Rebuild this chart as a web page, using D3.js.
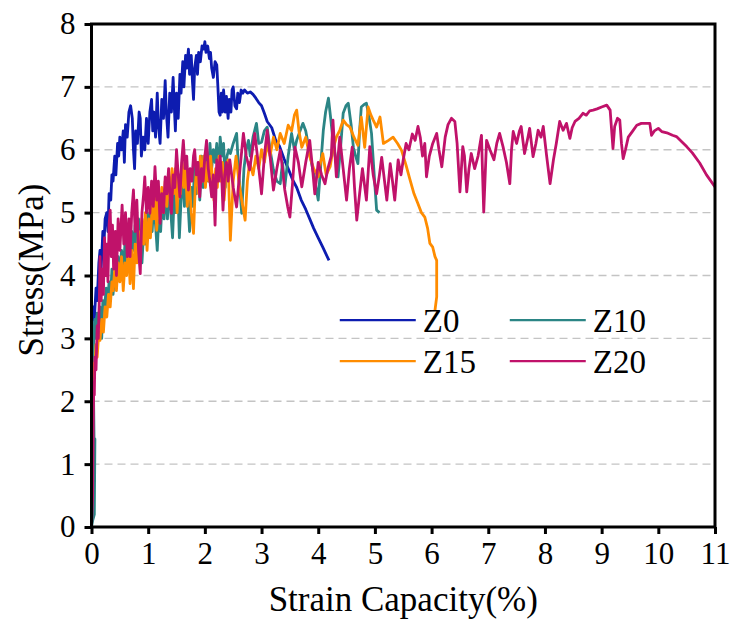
<!DOCTYPE html>
<html>
<head>
<meta charset="utf-8">
<script src="https://cdn.jsdelivr.net/npm/d3@7"></script>
<style>
  body { margin: 0; background: #fff; }
  svg text { font-family: "Liberation Serif", "Times New Roman", Times, "DejaVu Serif", serif; fill: #000; }
</style>
</head>
<body>
<div id="chart"></div>
<script>
// strain (%) / stress (MPa) pairs
const z0 = [[0,0],[0.01,3.2],[0.03,3.5],[0.05,3.3],[0.08,3.8],[0.1,3.6],[0.13,4.2],[0.15,4.4],[0.17,4.1],[0.2,4.7],[0.22,4.5],[0.24,4.9],[0.27,5.0],[0.29,4.7],[0.31,5.3],[0.34,5.2],[0.36,5.6],[0.38,5.5],[0.41,5.9],[0.43,5.6],[0.46,6.1],[0.48,5.9],[0.5,6.2],[0.53,6.0],[0.56,6.3],[0.58,5.8],[0.6,6.4],[0.63,6.2],[0.66,6.6],[0.69,6.7],[0.72,6.5],[0.74,6.0],[0.76,5.7],[0.78,6.3],[0.81,6.1],[0.84,6.6],[0.86,6.5],[0.88,5.9],[0.91,6.2],[0.94,6.0],[0.97,6.5],[1.0,6.1],[1.03,6.6],[1.06,6.8],[1.08,6.3],[1.1,6.6],[1.13,6.2],[1.16,6.9],[1.18,6.4],[1.21,6.1],[1.24,6.8],[1.27,6.5],[1.3,7.1],[1.32,6.6],[1.35,6.2],[1.38,6.9],[1.41,6.6],[1.44,7.15],[1.46,6.7],[1.48,6.3],[1.5,6.9],[1.53,6.5],[1.56,7.2],[1.58,6.9],[1.61,7.4],[1.63,7.0],[1.66,7.5],[1.68,7.3],[1.71,7.6],[1.73,7.2],[1.76,7.5],[1.78,7.1],[1.8,6.8],[1.82,7.3],[1.85,7.5],[1.87,7.2],[1.89,7.55],[1.92,7.4],[1.95,7.65],[1.98,7.6],[2.0,7.72],[2.02,7.55],[2.05,7.65],[2.08,7.45],[2.1,7.55],[2.12,7.3],[2.15,7.15],[2.18,7.4],[2.21,7.35],[2.23,7.0],[2.25,6.6],[2.27,6.55],[2.29,6.9],[2.31,6.6],[2.33,6.95],[2.36,6.6],[2.38,6.85],[2.41,6.5],[2.43,6.8],[2.46,6.6],[2.48,6.95],[2.5,7.0],[2.53,6.7],[2.56,6.65],[2.58,6.9],[2.61,6.75],[2.64,6.95],[2.67,6.9],[2.7,6.95],[2.75,6.9],[2.8,6.92],[2.85,6.88],[2.9,6.82],[2.95,6.75],[3.0,6.7],[3.05,6.58],[3.1,6.45],[3.18,6.35],[3.25,6.15],[3.32,6.05],[3.4,5.85],[3.47,5.7],[3.55,5.52],[3.62,5.4],[3.7,5.2],[3.78,5.05],[3.85,4.9],[3.92,4.75],[4.0,4.6],[4.08,4.45],[4.19,4.24]];

const z10 = [[0,0],[0.02,0.1],[0.05,0.2],[0.06,1.4],[0.05,1.0],[0.03,2.6],[0.04,3.1],[0.06,3.3],[0.08,3.0],[0.1,3.4],[0.12,3.2],[0.15,3.5],[0.18,3.0],[0.2,3.6],[0.23,3.5],[0.26,3.8],[0.28,3.5],[0.31,3.9],[0.34,3.7],[0.36,4.1],[0.38,3.7],[0.41,4.0],[0.44,3.9],[0.47,4.3],[0.5,4.0],[0.53,4.4],[0.56,4.1],[0.59,4.5],[0.62,4.2],[0.65,4.6],[0.68,4.3],[0.71,4.7],[0.74,4.4],[0.77,4.8],[0.8,4.4],[0.83,4.9],[0.86,4.6],[0.89,4.2],[0.92,4.7],[0.95,4.5],[0.98,5.0],[1.01,4.6],[1.04,5.1],[1.07,4.7],[1.1,5.2],[1.13,4.8],[1.16,4.4],[1.19,5.0],[1.22,4.7],[1.25,5.3],[1.28,4.9],[1.31,5.4],[1.34,4.9],[1.37,5.5],[1.4,5.0],[1.43,4.6],[1.46,5.3],[1.49,5.0],[1.52,5.5],[1.55,4.6],[1.58,5.2],[1.61,5.6],[1.64,5.1],[1.67,5.7],[1.7,5.2],[1.73,4.7],[1.76,5.4],[1.79,5.1],[1.82,5.8],[1.85,5.3],[1.88,5.8],[1.91,5.2],[1.94,5.9],[1.97,5.4],[2.0,5.6],[2.03,6.0],[2.06,5.5],[2.09,6.1],[2.12,5.7],[2.15,6.0],[2.18,5.8],[2.21,6.1],[2.24,5.5],[2.27,6.2],[2.3,5.9],[2.33,6.1],[2.36,5.4],[2.39,5.9],[2.42,6.0],[2.45,5.94],[2.5,6.1],[2.56,6.26],[2.6,5.6],[2.65,4.99],[2.69,5.7],[2.73,6.0],[2.77,6.15],[2.8,5.9],[2.85,6.2],[2.91,6.42],[2.95,6.1],[3.0,6.12],[3.05,6.3],[3.1,6.36],[3.15,6.0],[3.21,5.68],[3.27,5.5],[3.33,5.46],[3.37,5.8],[3.41,5.41],[3.47,5.9],[3.53,6.26],[3.58,6.0],[3.62,6.15],[3.68,6.3],[3.73,6.42],[3.78,6.3],[3.82,6.1],[3.88,5.8],[3.94,5.52],[4.0,5.2],[4.04,5.7],[4.09,6.31],[4.13,6.6],[4.18,6.82],[4.22,6.5],[4.26,6.15],[4.3,5.9],[4.35,5.57],[4.4,6.1],[4.44,6.58],[4.49,6.7],[4.53,6.74],[4.58,6.4],[4.62,6.04],[4.66,5.9],[4.7,5.78],[4.73,6.3],[4.76,6.68],[4.81,6.72],[4.85,6.74],[4.9,6.5],[4.94,6.26],[4.98,5.7],[5.03,5.04],[5.08,5.0]];

const z15 = [[0.01,2.3],[0.03,2.6],[0.05,2.4],[0.08,2.9],[0.1,2.7],[0.13,3.1],[0.15,2.97],[0.18,3.3],[0.21,3.1],[0.24,3.5],[0.27,3.34],[0.3,3.7],[0.33,3.5],[0.36,3.9],[0.38,3.76],[0.41,4.1],[0.44,3.76],[0.47,4.2],[0.5,3.9],[0.53,4.3],[0.56,3.76],[0.59,4.2],[0.62,4.0],[0.65,4.5],[0.68,3.87],[0.71,4.4],[0.74,3.79],[0.77,4.5],[0.8,4.2],[0.83,4.7],[0.86,4.3],[0.89,4.9],[0.92,4.5],[0.95,5.0],[0.98,4.4],[1.01,4.9],[1.04,4.6],[1.07,5.1],[1.1,4.9],[1.13,5.3],[1.15,4.72],[1.18,5.2],[1.21,4.9],[1.24,5.4],[1.27,5.0],[1.3,5.5],[1.33,5.1],[1.36,5.6],[1.39,5.2],[1.42,5.7],[1.45,5.3],[1.48,5.7],[1.51,5.0],[1.54,5.6],[1.57,5.3],[1.6,5.8],[1.63,5.4],[1.66,5.7],[1.69,5.1],[1.72,5.6],[1.76,5.0],[1.8,4.67],[1.83,5.4],[1.86,5.8],[1.89,5.3],[1.92,5.9],[1.95,5.5],[1.98,5.9],[2.01,5.4],[2.04,5.8],[2.07,5.5],[2.1,5.9],[2.13,5.6],[2.16,5.2],[2.19,5.7],[2.22,5.4],[2.25,5.9],[2.28,5.5],[2.31,5.8],[2.34,5.2],[2.37,5.6],[2.41,5.84],[2.45,4.56],[2.5,5.5],[2.55,5.9],[2.6,5.5],[2.65,5.2],[2.71,4.88],[2.75,5.5],[2.79,5.8],[2.85,5.6],[2.9,5.9],[2.95,5.7],[3.0,6.0],[3.05,5.8],[3.1,6.1],[3.15,5.9],[3.21,6.2],[3.27,6.0],[3.33,6.26],[3.4,6.1],[3.47,6.39],[3.53,6.3],[3.58,6.55],[3.62,6.63],[3.66,6.3],[3.71,6.04],[3.78,6.2],[3.85,5.89],[3.92,5.7],[4.0,5.57],[4.04,5.8],[4.08,5.94],[4.14,5.6],[4.21,5.73],[4.26,6.0],[4.32,6.2],[4.38,6.31],[4.44,6.47],[4.5,6.4],[4.56,6.36],[4.63,6.2],[4.7,6.07],[4.76,6.52],[4.82,6.04],[4.88,6.68],[4.93,6.55],[4.97,6.47],[5.03,6.36],[5.09,6.52],[5.15,6.1],[5.24,6.15],[5.32,6.2],[5.4,6.1],[5.47,5.99],[5.55,5.75],[5.62,5.52],[5.69,5.3],[5.76,5.14],[5.82,5.0],[5.88,4.93],[5.93,4.75],[5.97,4.51],[6.02,4.45],[6.06,4.3],[6.09,4.24],[6.09,3.66],[6.06,3.45]];

const z20 = [[0,0],[0.02,0.5],[0.03,1.54],[0.04,2.3],[0.05,2.1],[0.06,2.7],[0.08,2.5],[0.1,3.2],[0.12,3.0],[0.14,3.7],[0.15,4.3],[0.17,3.6],[0.19,4.1],[0.21,3.7],[0.23,4.6],[0.25,4.0],[0.27,4.5],[0.29,3.9],[0.31,4.8],[0.33,5.04],[0.35,4.3],[0.37,4.8],[0.39,4.1],[0.42,4.7],[0.44,4.0],[0.47,4.9],[0.5,4.4],[0.54,5.12],[0.57,4.5],[0.6,5.0],[0.63,4.3],[0.66,4.9],[0.68,4.3],[0.71,5.0],[0.74,5.36],[0.77,4.7],[0.8,5.2],[0.83,4.4],[0.86,4.03],[0.89,5.0],[0.92,5.3],[0.94,5.57],[0.97,5.0],[1.0,5.4],[1.03,4.99],[1.06,5.5],[1.09,5.1],[1.12,5.73],[1.15,5.2],[1.18,5.5],[1.21,4.83],[1.24,5.3],[1.27,5.0],[1.3,5.57],[1.33,5.3],[1.36,5.7],[1.39,5.2],[1.41,4.99],[1.44,5.6],[1.47,5.4],[1.5,6.0],[1.53,5.6],[1.56,5.25],[1.59,5.8],[1.62,6.15],[1.65,5.7],[1.68,5.9],[1.71,5.36],[1.74,5.7],[1.77,5.5],[1.8,5.9],[1.82,6.0],[1.85,5.6],[1.88,5.8],[1.91,5.25],[1.94,5.7],[1.97,5.5],[2.0,5.9],[2.03,6.15],[2.06,5.7],[2.09,5.5],[2.12,5.25],[2.15,5.6],[2.18,4.8],[2.21,5.84],[2.24,5.5],[2.27,5.9],[2.3,5.5],[2.32,5.04],[2.35,5.6],[2.38,5.8],[2.41,5.5],[2.44,5.84],[2.5,5.4],[2.56,5.09],[2.62,5.7],[2.68,6.26],[2.73,5.9],[2.79,5.68],[2.84,6.0],[2.88,6.26],[2.94,5.8],[3.0,5.3],[3.05,5.9],[3.1,6.31],[3.15,5.9],[3.21,5.36],[3.27,5.7],[3.33,5.99],[3.37,5.7],[3.41,5.36],[3.46,5.1],[3.5,4.93],[3.55,5.5],[3.59,6.04],[3.65,5.8],[3.71,5.41],[3.78,5.8],[3.85,6.15],[3.9,5.7],[3.94,5.3],[4.0,5.8],[4.06,5.6],[4.12,5.46],[4.17,5.7],[4.23,5.9],[4.26,6.47],[4.29,6.0],[4.32,5.57],[4.35,5.9],[4.38,6.2],[4.44,5.7],[4.5,5.2],[4.55,5.7],[4.6,6.04],[4.64,5.4],[4.68,4.88],[4.73,5.3],[4.78,5.7],[4.85,5.2],[4.91,6.05],[4.97,5.6],[5.03,5.3],[5.08,5.6],[5.12,5.88],[5.17,5.5],[5.21,5.2],[5.27,5.78],[5.31,5.5],[5.35,5.2],[5.41,5.84],[5.46,5.6],[5.5,5.84],[5.55,6.1],[5.6,6.0],[5.66,6.25],[5.71,6.15],[5.76,6.37],[5.8,6.2],[5.84,5.9],[5.88,6.1],[5.91,5.57],[5.96,5.9],[6.02,6.1],[6.09,6.26],[6.13,6.0],[6.18,5.73],[6.24,6.2],[6.29,6.4],[6.35,6.5],[6.41,6.45],[6.45,6.1],[6.5,5.33],[6.55,6.05],[6.58,5.9],[6.62,5.33],[6.66,5.7],[6.7,5.94],[6.76,5.7],[6.82,5.9],[6.88,6.23],[6.9,5.6],[6.92,5.01],[6.97,6.15],[7.03,6.0],[7.1,5.84],[7.15,6.1],[7.2,6.26],[7.26,6.05],[7.32,5.8],[7.38,5.46],[7.41,6.0],[7.44,6.29],[7.5,6.1],[7.55,6.3],[7.58,6.37],[7.64,5.94],[7.7,6.2],[7.73,6.34],[7.79,5.89],[7.84,6.1],[7.88,6.31],[7.93,6.2],[7.97,6.37],[8.03,5.9],[8.09,5.46],[8.15,5.84],[8.2,6.1],[8.26,6.45],[8.32,6.31],[8.38,6.42],[8.44,6.18],[8.48,6.35],[8.53,6.45],[8.6,6.5],[8.67,6.58],[8.73,6.55],[8.79,6.62],[8.85,6.63],[8.92,6.65],[9.0,6.68],[9.09,6.71],[9.15,6.63],[9.2,6.02],[9.23,6.37],[9.28,6.5],[9.32,6.47],[9.35,6.1],[9.38,5.86],[9.42,6.0],[9.47,6.2],[9.55,6.3],[9.62,6.39],[9.7,6.42],[9.76,6.42],[9.85,6.42],[9.88,6.23],[9.93,6.3],[10.0,6.34],[10.06,6.29],[10.15,6.27],[10.25,6.23],[10.32,6.21],[10.4,6.14],[10.5,6.05],[10.6,5.95],[10.73,5.79],[10.85,5.6],[11.0,5.41]];

const seriesNames = ["Z0", "Z10", "Z15", "Z20"];
const seriesColors = ["#0d1cb0", "#2b8585", "#ff8c00", "#c0126a"];
const xTicks = [0, 1, 2, 3, 4, 5, 6, 7, 8, 9, 10, 11];
const yTicks = [0, 1, 2, 3, 4, 5, 6, 7, 8];

const series = [z0, z10, z15, z20];
const serif = '"Liberation Serif", "Times New Roman", Times, "DejaVu Serif", serif';

const margin = {top: 24, right: 16, bottom: 95, left: 91.5},
    width = 731 - margin.left - margin.right,
    height = 622 - margin.top - margin.bottom;

let svg = d3.select('#chart')
    .append('svg')
    .attr('width', 731)
    .attr('height', 622);

let group = svg.append('g')
    .attr('transform', 'translate(' + margin.left + ',' + margin.top + ')');

let xScale = d3.scaleLinear().domain([0, 11]).range([0, width]);
let yScale = d3.scaleLinear().domain([0, 8]).range([height, 0]);

// dashed horizontal grid
group.append('g')
    .selectAll('line')
    .data(yTicks.filter(d => d > 0 && d < 8))
    .join('line')
    .attr('x1', 0)
    .attr('x2', width)
    .attr('y1', d => yScale(d))
    .attr('y2', d => yScale(d))
    .attr('stroke', '#c4c4c4')
    .attr('stroke-width', 1.3)
    .attr('stroke-dasharray', '8,5');

let line = d3.line()
    .x(d => xScale(d[0]))
    .y(d => yScale(d[1]));

group.append('clipPath').attr('id', 'plotclip')
    .append('rect').attr('width', width).attr('height', height);

group.append('g')
    .attr('clip-path', 'url(#plotclip)')
    .selectAll('path')
    .data(series)
    .join('path')
    .attr('d', line)
    .attr('fill', 'none')
    .attr('stroke', (d, i) => seriesColors[i])
    .attr('stroke-width', 2.8)
    .attr('stroke-linejoin', 'round');

const xAxis = d3.axisBottom(xScale)
    .tickValues(xTicks)
    .tickSize(7)
    .tickPadding(8)
    .tickFormat(d3.format('d'));

const yAxis = d3.axisLeft(yScale)
    .tickValues(yTicks)
    .tickSize(7)
    .tickPadding(9)
    .tickFormat(d3.format('d'));

let x_labels = group.append('g')
    .attr('class', 'axis x-axis')
    .attr('transform', `translate(0, ${height})`)
    .call(xAxis);

let y_labels = group.append('g')
    .attr('class', 'axis y-axis')
    .call(yAxis);

group.selectAll('.axis').attr('font-family', serif);
group.selectAll('.axis .domain').remove();
group.selectAll('.axis line').attr('stroke', '#000').attr('stroke-width', 3);
group.selectAll('.axis text')
    .attr('font-family', serif)
    .attr('font-size', 31)
    .attr('fill', '#000');

// frame
group.append('rect')
    .attr('width', width)
    .attr('height', height)
    .attr('fill', 'none')
    .attr('stroke', '#000')
    .attr('stroke-width', 3);

// axis titles
svg.append('text')
    .attr('x', margin.left + width / 2)
    .attr('y', 611)
    .attr('text-anchor', 'middle')
    .attr('font-family', serif)
    .attr('font-size', 35)
    .text('Strain Capacity(%)');

svg.append('text')
    .attr('transform', 'translate(43,270) rotate(-90)')
    .attr('text-anchor', 'middle')
    .attr('font-family', serif)
    .attr('font-size', 35)
    .text('Stress(MPa)');

// legend, two columns
let legend = group.append('g')
    .selectAll('g')
    .data(seriesNames)
    .join('g')
    .attr('transform', (d, i) => `translate(${xScale(4.38) + (i % 2) * 170}, ${yScale(3.29) + Math.floor(i / 2) * 41})`);

legend.append('line')
    .attr('x1', 0)
    .attr('x2', 76)
    .attr('stroke', (d, i) => seriesColors[i])
    .attr('stroke-width', 2.4);

legend.append('text')
    .attr('x', 83)
    .attr('dy', '0.35em')
    .attr('font-family', serif)
    .attr('font-size', 33)
    .text(d => d);
</script>
</body>
</html>
